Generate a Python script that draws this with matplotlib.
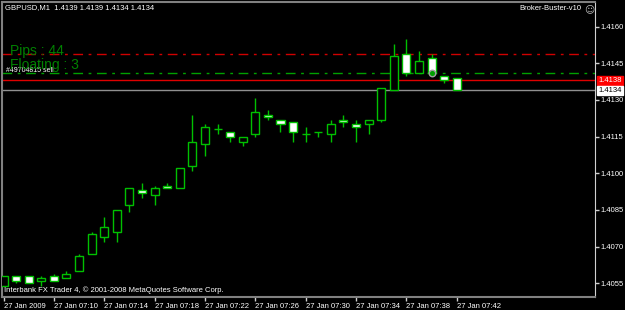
import numpy as np
import matplotlib
matplotlib.use("Agg")
import matplotlib.pyplot as plt

# GBPUSD M1 bars, 27 Jan 2009 07:06 .. 07:42
opens  = [1.4054, 1.4058, 1.4058, 1.4056, 1.4058, 1.4057, 1.4060, 1.4067, 1.4074, 1.4076,
          1.4087, 1.4093, 1.4091, 1.4095, 1.4094, 1.4103, 1.4112, 1.4118, 1.4117, 1.4113,
          1.4116, 1.4124, 1.4122, 1.4121, 1.4116, 1.4117, 1.4116, 1.4122, 1.4120, 1.4120,
          1.4122, 1.4134, 1.4149, 1.4141, 1.4147, 1.4140, 1.4139]
highs  = [1.4058, 1.4058, 1.4058, 1.4058, 1.4059, 1.4060, 1.4067, 1.4076, 1.4082, 1.4085,
          1.4094, 1.4096, 1.4095, 1.4096, 1.4102, 1.4124, 1.4120, 1.4120, 1.4117, 1.4115,
          1.4131, 1.4126, 1.4122, 1.4121, 1.4119, 1.4117, 1.4122, 1.4124, 1.4122, 1.4122,
          1.4135, 1.4153, 1.4155, 1.4150, 1.4149, 1.4140, 1.4139]
lows   = [1.4054, 1.4055, 1.4055, 1.4054, 1.4056, 1.4057, 1.4060, 1.4067, 1.4072, 1.4072,
          1.4084, 1.4090, 1.4087, 1.4094, 1.4094, 1.4101, 1.4107, 1.4116, 1.4113, 1.4111,
          1.4115, 1.4122, 1.4117, 1.4113, 1.4113, 1.4115, 1.4113, 1.4119, 1.4113, 1.4116,
          1.4121, 1.4134, 1.4140, 1.4141, 1.4141, 1.4137, 1.4134]
closes = [1.4058, 1.4056, 1.4055, 1.4057, 1.4056, 1.4059, 1.4066, 1.4075, 1.4078, 1.4085,
          1.4094, 1.4092, 1.4094, 1.4094, 1.4102, 1.4113, 1.4119, 1.4118, 1.4115, 1.4115,
          1.4125, 1.4123, 1.4120, 1.4117, 1.4116, 1.4117, 1.4120, 1.4121, 1.4119, 1.4122,
          1.4135, 1.4148, 1.4141, 1.4146, 1.4141, 1.4138, 1.4134]

time_labels = ["27 Jan 2009", "27 Jan 07:10", "27 Jan 07:14", "27 Jan 07:18", "27 Jan 07:22",
               "27 Jan 07:26", "27 Jan 07:30", "27 Jan 07:34", "27 Jan 07:38", "27 Jan 07:42"]
price_ticks = [1.4055, 1.4070, 1.4085, 1.4100, 1.4115, 1.4130, 1.4145, 1.4160]

tp_level = 1.4149      # red dash-dot
order_level = 1.4141   # green dash-dot (sell order)
ask_level = 1.4138     # red solid
bid_level = 1.4134     # grey bid line
order_bar = 34

W, H = 625, 310
GREEN = "#00c000"
FONT = "Liberation Sans"

fig = plt.figure(figsize=(W / 100, H / 100), dpi=100, facecolor="black")
ax = fig.add_axes([2 / W, 1 - 297 / H, 593 / W, 295 / H], facecolor="black")

# pixel scale of the original terminal
px_bar = 12.59
x0_px = 3.5
px_pip = 2.444
ax.set_xlim((2 - x0_px) / px_bar, (595 - x0_px) / px_bar)
ax.set_ylim(1.4055 - (297 - 283.3) / px_pip * 0.0001, 1.4055 + (283.3 - 2) / px_pip * 0.0001)

o = np.array(opens); c = np.array(closes)
x = np.arange(len(o))
ax.vlines(x, lows, highs, color=GREEN, lw=1, zorder=2)
bull = c > o
bear = c < o
doji = c == o
ax.bar(x[bull], (c - o)[bull], bottom=o[bull], width=0.64, facecolor="black",
       edgecolor=GREEN, lw=1, zorder=3)
ax.bar(x[bear], (o - c)[bear], bottom=c[bear], width=0.64, facecolor="white",
       edgecolor=GREEN, lw=1, zorder=3)
ax.hlines(c[doji], x[doji] - 0.32, x[doji] + 0.32, color=GREEN, lw=1, zorder=3)

# order / price lines
ax.axhline(tp_level, color="#d00000", lw=1, ls=(0, (7, 4, 2, 4)), zorder=1)
ax.axhline(order_level, color="#00a000", lw=1, ls=(0, (7, 4, 2, 4)), zorder=1)
ax.axhline(ask_level, color="#e00000", lw=1, zorder=1)
ax.axhline(bid_level, color="#909090", lw=1, zorder=1)
ax.scatter([order_bar], [order_level], s=22, marker="o", facecolor="#00a000",
           edgecolor="#a0a0a0", lw=1, zorder=4)

# axes styling
for s in ["left", "top", "bottom"]:
    ax.spines[s].set_color("#808080")
    ax.spines[s].set_linewidth(1.5)
ax.spines["right"].set_color("#d0d0d0")
ax.yaxis.tick_right()
ax.set_yticks(price_ticks)
ax.set_yticklabels(["%.4f" % p for p in price_ticks])
ax.tick_params(axis="y", colors="#d0d0d0", length=3, width=1, pad=1, labelsize=5.5)
ax.set_xticks(x[::4])
ax.set_xticklabels(time_labels, ha="left")
ax.tick_params(axis="x", colors="#d0d0d0", length=3, width=1, pad=1, labelsize=5.5)
for lab in ax.get_xticklabels() + ax.get_yticklabels():
    lab.set_family(FONT)
    lab.set_color("white")

# price boxes on the scale
ax.annotate("%.4f" % ask_level, xy=(1.006, ask_level), xycoords=("axes fraction", "data"),
            va="center", ha="left", fontsize=5.5, family=FONT, color="white",
            bbox=dict(boxstyle="square,pad=0.15", fc="#ff0000", ec="#ff0000"))
ax.annotate("%.4f" % bid_level, xy=(1.006, bid_level), xycoords=("axes fraction", "data"),
            va="center", ha="left", fontsize=5.5, family=FONT, color="black",
            bbox=dict(boxstyle="square,pad=0.15", fc="white", ec="white"))

# overlay texts
fig.text(5 / W, 1 - 8 / H, "GBPUSD,M1  1.4139 1.4139 1.4134 1.4134", color="white",
         fontsize=5.5, family=FONT, va="center")
fig.text(581 / W, 1 - 9 / H, "Broker-Buster-v10", color="white", fontsize=5.5,
         family=FONT, va="center", ha="right")
fig.text(589 / W, 1 - 9 / H, "\u263a", color="#c0c0c0", fontsize=7,
         family="DejaVu Sans", va="center", ha="center")
fig.text(6 / W, 1 - 70 / H, "#49704815 sell", color="white", fontsize=5, family=FONT,
         va="center")
fig.text(10 / W, 1 - 50.5 / H, "Pips : 44", color="#008000", fontsize=10, family=FONT,
         va="center")
fig.text(10 / W, 1 - 65.5 / H, "Floating : 3", color="#008000", fontsize=10, family=FONT,
         va="center")
fig.text(4 / W, 1 - 290 / H, "Interbank FX Trader 4, \u00a9 2001-2008 MetaQuotes Software Corp.",
         color="white", fontsize=5.5, family=FONT, va="center")

fig.savefig("out.png", dpi=100, facecolor="black")
